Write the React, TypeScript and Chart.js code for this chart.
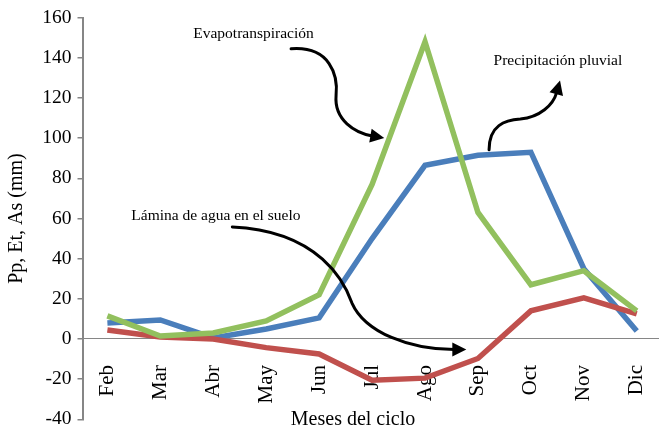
import React, { useEffect, useRef } from 'react';
import { Chart, registerables } from 'chart.js';

Chart.register(...registerables);

// ---------- data ----------
const MONTHS = ['Feb', 'Mar', 'Abr', 'May', 'Jun', 'Jul', 'Ago', 'Sep', 'Oct', 'Nov', 'Dic'];
const PRECIPITACION = [8, 9.5, 0.5, 5, 10.5, 50, 86.5, 91.5, 93, 35, 4];
const EVAPOTRANSPIRACION = [11.5, 1.5, 3, 9, 22, 77, 148, 63, 27, 34, 14];
const LAMINA = [4.5, 1, 0, -4.3, -7.5, -20.5, -19.5, -9.7, 14, 20.5, 12.5];

const Y_MIN = -40;
const Y_MAX = 160;
const Y_STEP = 20;
const Y_TITLE = 'Pp, Et, As (mm)';
const X_TITLE = 'Meses del ciclo';

// annotation labels (text, x in month index units, y in mm)
const NOTE_TEXTS = ['Evapotranspiración', 'Precipitación pluvial', 'Lámina de agua en el suelo'];
const NOTE_X = [2.76, 8.51, 2.05];
const NOTE_Y = [151.9, 138.6, 61.5];

// annotation arrows as cubic bezier chains in data units: [x0,y0, c1x,c1y, c2x,c2y, x1,y1, ...]
const ARROW_EVAPO = [3.47, 144.5, 4.21, 146, 4.36, 131.2, 4.32, 121.3, 4.28, 109, 4.68, 102.6, 5.23, 100.1];
const ARROW_PRECIP = [7.21, 94.2, 7.21, 106.5, 7.51, 109, 7.8, 109.5, 8.17, 110.5, 8.42, 116.4, 8.55, 128.7];
const ARROW_LAMINA = [2.36, 55.8, 4.02, 53.8, 4.49, 27.7, 4.62, 17.9, 4.87, 3.1, 5.72, -5.3, 6.78, -5.3];
const X_TITLE_POS = 4.64;

const FONT = '"Liberation Serif", "Times New Roman", serif';
const AXIS_GRAY = '#868686';

const notesPlugin = {
  id: 'notes',
  afterDatasetsDraw(chart: any) {
    const { ctx, scales } = chart;
    const xs = scales.x;
    const ys = scales.y;
    const px = (v: number) => xs.getPixelForValue(v);
    const py = (v: number) => ys.getPixelForValue(v);
    ctx.save();
    ctx.fillStyle = '#000';
    ctx.font = `15.5px ${FONT}`;
    ctx.textAlign = 'center';
    ctx.textBaseline = 'middle';
    NOTE_TEXTS.forEach((t, i) => ctx.fillText(t, px(NOTE_X[i]), py(NOTE_Y[i])));

    const drawArrow = (arr: number[]) => {
      const pts: number[][] = [];
      for (let i = 0; i < arr.length; i += 2) pts.push([px(arr[i]), py(arr[i + 1])]);
      const n = pts.length;
      const tip = pts[n - 1];
      const prev = pts[n - 2];
      let dx = tip[0] - prev[0];
      let dy = tip[1] - prev[1];
      const len = Math.hypot(dx, dy) || 1;
      dx /= len; dy /= len;
      const headLen = 14;
      const halfW = 7;
      const base = [tip[0] - dx * headLen, tip[1] - dy * headLen];
      ctx.beginPath();
      ctx.moveTo(pts[0][0], pts[0][1]);
      for (let i = 1; i + 2 < n; i += 3) {
        const end = i + 2 === n - 1 ? [base[0] + dx * 2, base[1] + dy * 2] : pts[i + 2];
        ctx.bezierCurveTo(pts[i][0], pts[i][1], pts[i + 1][0], pts[i + 1][1], end[0], end[1]);
      }
      ctx.strokeStyle = '#000';
      ctx.lineWidth = 3;
      ctx.lineCap = 'round';
      ctx.stroke();
      ctx.beginPath();
      ctx.moveTo(tip[0], tip[1]);
      ctx.lineTo(base[0] - dy * halfW, base[1] + dx * halfW);
      ctx.lineTo(base[0] + dy * halfW, base[1] - dx * halfW);
      ctx.closePath();
      ctx.fill();
    };
    drawArrow(ARROW_EVAPO);
    drawArrow(ARROW_PRECIP);
    drawArrow(ARROW_LAMINA);

    ctx.font = `20px ${FONT}`;
    ctx.fillText(X_TITLE, px(X_TITLE_POS), py(Y_MIN) + 0.5);
    ctx.restore();
  },
};

export default function App() {
  const ref = useRef<HTMLCanvasElement | null>(null);

  useEffect(() => {
    if (!ref.current) return;
    const toPts = (vals: number[]) => vals.map((v, i) => ({ x: i, y: v }));
    const chart = new Chart(ref.current, {
      type: 'line',
      data: {
        datasets: [
          {
            label: 'Precipitación pluvial',
            data: toPts(PRECIPITACION),
            borderColor: '#4a7ebb',
            borderWidth: 5.5,
            pointRadius: 0,
            tension: 0,
            order: 2,
          },
          {
            label: 'Evapotranspiración',
            data: toPts(EVAPOTRANSPIRACION),
            borderColor: '#92c05e',
            borderWidth: 5.5,
            pointRadius: 0,
            tension: 0,
            order: 0,
          },
          {
            label: 'Lámina de agua en el suelo',
            data: toPts(LAMINA),
            borderColor: '#c0504d',
            borderWidth: 5.5,
            pointRadius: 0,
            tension: 0,
            order: 1,
          },
        ],
      },
      options: {
        responsive: false,
        maintainAspectRatio: false,
        animation: false,
        layout: { padding: { top: 16.5, bottom: 14.3, left: 0, right: 0 } },
        plugins: { legend: { display: false }, tooltip: { enabled: false } },
        scales: {
          x: {
            type: 'linear',
            position: { y: 0 },
            min: -0.47,
            max: 10.42,
            grid: { display: false, drawTicks: false },
            border: { display: true, color: AXIS_GRAY, width: 1 },
            ticks: {
              stepSize: 1,
              includeBounds: false,
              autoSkip: false,
              minRotation: 90,
              maxRotation: 90,
              padding: 26,
              color: '#000',
              font: { family: FONT, size: 21 },
              callback: (v: any) => MONTHS[Number(v)] ?? '',
            },
            afterFit: (s: any) => {
              s.paddingLeft = 0;
              s.paddingRight = 0;
            },
          },
          y: {
            type: 'linear',
            min: Y_MIN,
            max: Y_MAX,
            ticks: {
              stepSize: Y_STEP,
              padding: 6,
              color: '#000',
              font: { family: FONT, size: 19.5 },
            },
            grid: {
              display: true,
              drawOnChartArea: false,
              drawTicks: true,
              tickLength: 5,
              color: AXIS_GRAY,
              lineWidth: 1.5,
            },
            border: { display: true, color: AXIS_GRAY, width: 2 },
            title: {
              display: true,
              text: Y_TITLE,
              color: '#000',
              font: { family: FONT, size: 20 },
              padding: { top: 4.5, bottom: 0 },
            },
            afterFit: (s: any) => {
              s.width = 82.5;
            },
          },
        },
      },
      plugins: [notesPlugin],
    } as any);
    return () => chart.destroy();
  }, []);

  return (
    <div style={{ position: 'fixed', left: 0, top: 0, width: 659, height: 437, background: '#fff' }}>
      <canvas ref={ref} width={659} height={437} style={{ display: 'block' }} />
    </div>
  );
}
